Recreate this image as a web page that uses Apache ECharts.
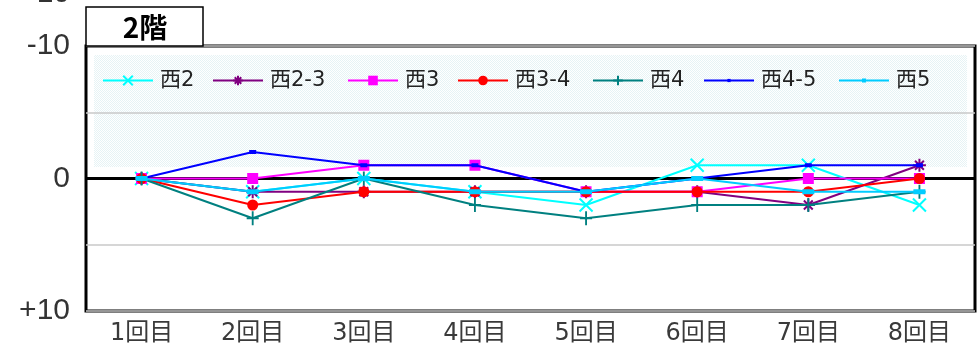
<!DOCTYPE html>
<html>
<head>
<meta charset="utf-8">
<style>
  html, body { margin: 0; padding: 0; background: #fff; }
  #chart { width: 977px; height: 347px; }
</style>
<script src="https://cdn.jsdelivr.net/npm/echarts@6/dist/echarts.min.js"></script>
</head>
<body>
<div id="chart"></div>
<script>
// 各回の測定値（2階）
const categories = ['1回目', '2回目', '3回目', '4回目', '5回目', '6回目', '7回目', '8回目'];
const seriesNames = ['西2', '西2-3', '西3', '西3-4', '西4', '西4-5', '西5'];
const nishi2   = [0, 1, 0, 1, 2, -1, -1, 2];
const nishi2_3 = [0, 1, 1, 1, 1, 1, 2, -1];
const nishi3   = [0, 0, -1, -1, 1, 1, 0, 0];
const nishi3_4 = [0, 2, 1, 1, 1, 1, 1, 0];
const nishi4   = [0, 3, 0, 2, 3, 2, 2, 1];
const nishi4_5 = [0, -2, -1, -1, 1, 0, -1, -1];
const nishi5   = [0, 1, 0, 1, 1, 0, 1, 1];
const yTickLabels = { '-10': '-10', '0': '0', '10': '+10' };
const titleText = '2階';

const values = [nishi2, nishi2_3, nishi3, nishi3_4, nishi4, nishi4_5, nishi5];
const colors = ['#00FFFF', '#800080', '#FF00FF', '#FF0000', '#008080', '#0000FF', '#00CCFF'];

// marker shapes
const X_PATH = 'path://M0,0L10,10M10,0L0,10';
const STAR_PATH = 'path://M5,0L5,10M0,5L10,5M1.6,1.6L8.4,8.4M8.4,1.6L1.6,8.4';
const PLUS_PATH = 'path://M5,0L5,10M0,5L10,5';
const markers = [
  { symbol: X_PATH, size: 13, stroke: true, legendH: 12 },
  { symbol: STAR_PATH, size: 13, stroke: true, legendH: 12 },
  { symbol: 'rect', size: 11, stroke: false, legendH: 12 },
  { symbol: 'circle', size: 11, stroke: false, legendH: 12 },
  { symbol: PLUS_PATH, size: [12, 14], stroke: true, legendH: 12 },
  { symbol: 'rect', size: [7, 4], stroke: false, legendH: 4 },
  { symbol: 'rect', size: [12, 5], stroke: false, legendH: 5 }
];

// fine dotted fill for the legend panel
function dotPattern() {
  const c = document.createElement('canvas');
  c.width = 2; c.height = 2;
  const g = c.getContext('2d');
  g.fillStyle = '#ffffff';
  g.fillRect(0, 0, 2, 2);
  g.fillStyle = '#e6f3f5';
  g.fillRect(0, 0, 1, 1);
  g.fillRect(1, 1, 1, 1);
  return c;
}

const legendLeft = [102, 212, 347, 457, 592, 703, 838];

const chart = echarts.init(document.getElementById('chart'), null, { renderer: 'canvas' });

const series = seriesNames.map((name, i) => {
  const m = markers[i];
  const s = {
    name: name,
    type: 'line',
    data: values[i],
    symbol: m.symbol,
    symbolSize: m.size,
    showAllSymbol: true,
    animation: false,
    lineStyle: { color: colors[i], width: 2 },
    itemStyle: m.stroke
      ? { color: colors[i], borderColor: colors[i], borderWidth: 2 }
      : { color: colors[i], borderWidth: 0 },
    emphasis: { disabled: true },
    z: 3 + i
  };
  if (i === 0) {
    s.markLine = {
      silent: true,
      symbol: 'none',
      label: { show: false },
      lineStyle: { color: '#000', width: 3, type: 'solid' },
      data: [{ yAxis: 0 }],
      animation: false,
      z: 1
    };
  }
  return s;
});

const option = {
  animation: false,
  backgroundColor: '#fff',
  color: colors,
  grid: {
    left: 86, right: 2, top: 46, bottom: 36,
    show: true, borderColor: '#000', borderWidth: 3,
    backgroundColor: 'transparent'
  },
  xAxis: {
    type: 'category',
    data: categories,
    boundaryGap: true,
    axisLine: { show: false },
    axisTick: { show: false },
    splitLine: { show: false },
    axisLabel: {
      color: '#3a3a3a',
      fontSize: 24,
      fontFamily: '"DejaVu Sans", "Noto Sans CJK JP"',
      margin: 11,
      interval: 0
    }
  },
  yAxis: {
    type: 'value',
    inverse: true,
    min: -10, max: 10, interval: 5,
    axisLine: { show: false },
    axisTick: { show: false },
    splitLine: { show: true, lineStyle: { color: '#c8c8c8', width: 1.5 } },
    axisLabel: {
      color: '#333',
      fontSize: 30,
      fontFamily: 'Liberation Sans',
      margin: 16,
      formatter: v => yTickLabels[String(v)] || ''
    }
  },
  legend: seriesNames.map((name, i) => ({
    data: [name],
    left: legendLeft[i],
    top: 70,
    padding: 0,
    itemWidth: 50,
    itemHeight: markers[i].legendH,
    itemGap: 0,
    selectedMode: false,
    textStyle: {
      color: '#222', fontSize: 21,
      fontFamily: '"DejaVu Sans", "Noto Sans CJK JP"',
      padding: [0, 0, 0, 2]
    }
  })),
  graphic: [
    {
      type: 'rect',
      z: -10,
      silent: true,
      shape: { x: 94, y: 55, width: 873, height: 112 },
      style: { fill: { image: dotPattern(), repeat: 'repeat' } }
    },
    {
      type: 'rect',
      z: 10,
      silent: true,
      shape: { x: 86, y: 7, width: 117, height: 39 },
      style: { fill: '#fff', stroke: '#000', lineWidth: 1.5 }
    },
    {
      type: 'text',
      z: 11,
      silent: true,
      style: {
        x: 145, y: 27, text: titleText,
        fill: '#000',
        font: 'bold 28px "Noto Sans CJK JP"',
        align: 'center', verticalAlign: 'middle'
      }
    },
    {
      type: 'text',
      z: 11,
      silent: true,
      style: {
        x: 70, y: -6, text: '+10',
        fill: '#333',
        font: '30px "Liberation Sans"',
        align: 'right', verticalAlign: 'middle'
      }
    }
  ],
  series: series
};

chart.setOption(option);
</script>
</body>
</html>
